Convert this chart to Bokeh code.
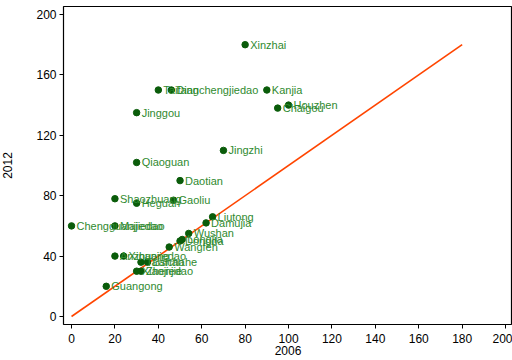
from bokeh.plotting import figure
from bokeh.models import ColumnDataSource, Range1d, FixedTicker
from bokeh.core.properties import value
from bokeh.embed import file_html
from bokeh.resources import INLINE

names = ["Xinzhai", "Taifang", "Dianchengjiedao", "Kanjia", "Houzhen", "Chaigou",
         "Jinggou", "Jingzhi", "Qiaoguan", "Daotian", "Shaozhuang", "Heguan",
         "Gaoliu", "Liutong", "Damujia", "Chengguanjiedao", "Majiedao", "Wushan",
         "Dongda", "Longjia", "Wangfen", "Anzhuang", "Xinanjiedao", "Taishan",
         "Laichahe", "Xiaojiedao", "Zhenjie", "Guangong"]
y2006 = [80, 40, 46, 90, 100, 95,
         30, 70, 30, 50, 20, 30,
         47, 65, 62, 0, 20, 54,
         50, 51, 45, 20, 24, 32,
         35, 30, 32, 16]
y2012 = [180, 150, 150, 150, 140, 138,
         135, 110, 102, 90, 78, 75,
         77, 66, 62, 60, 60, 55,
         50, 51, 46, 40, 40, 36,
         36, 30, 30, 20]
ref_x = [0, 180]
ref_y = [0, 180]
x_ticks = [0, 20, 40, 60, 80, 100, 120, 140, 160, 180, 200]
y_ticks = [0, 40, 80, 120, 160, 200]

src = ColumnDataSource(dict(x=y2006, y=y2012, name=names))

p = figure(width=512, height=358, output_backend="svg", toolbar_location=None,
           x_range=Range1d(-3.7, 203.2), y_range=Range1d(-5.3, 205.3),
           min_border_left=62, min_border_right=0, min_border_top=6, min_border_bottom=34)

p.line(ref_x, ref_y, line_color="#ff4500", line_width=1.6)
p.scatter("x", "y", source=src, size=6.5, fill_color="#0a5c0a", line_color="#0a5c0a")
p.text("x", "y", text="name", source=src, x_offset=5, text_baseline="middle",
       text_font=value("Liberation Sans"), text_font_size="11px", text_color="#2f8a2f")

p.grid.visible = False
p.outline_line_color = "black"
p.outline_line_width = 1.2
p.background_fill_color = "white"
p.border_fill_color = "white"

for ax in (p.xaxis[0], p.yaxis[0]):
    ax.axis_line_color = None
    ax.major_tick_in = 0
    ax.major_tick_out = 4
    ax.minor_tick_line_color = None
    ax.major_label_text_font = "Liberation Sans"
    ax.major_label_text_font_size = "12px"
    ax.major_label_text_color = "black"
    ax.axis_label_text_font = "Liberation Sans"
    ax.axis_label_text_font_size = "12px"
    ax.axis_label_text_font_style = "normal"
    ax.axis_label_text_color = "black"

p.xaxis[0].ticker = FixedTicker(ticks=x_ticks)
p.yaxis[0].ticker = FixedTicker(ticks=y_ticks)
p.xaxis[0].axis_label = "2006"
p.yaxis[0].axis_label = "2012"
p.xaxis[0].major_label_standoff = 5
p.xaxis[0].axis_label_standoff = 0
p.yaxis[0].major_label_standoff = 3
p.yaxis[0].axis_label_standoff = 21

open("out.html", "w").write(file_html(p, INLINE))
